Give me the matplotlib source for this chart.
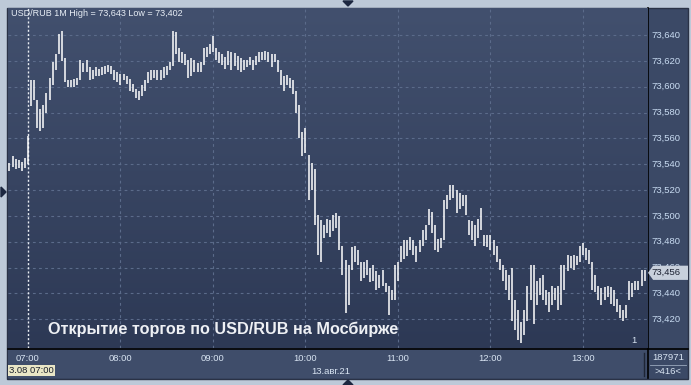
import numpy as np
import matplotlib.pyplot as plt
from matplotlib.patches import Rectangle, Polygon

plt.rcParams['font.family'] = ['Liberation Sans', 'DejaVu Sans']

# 2-minute bars, first bar at 06:48 (minutes relative to 07:00)
start_min = -12
step_min = 2
highs = [73.541, 73.546, 73.544, 73.543, 73.542, 73.545, 73.562, 73.605, 73.605, 73.590,
         73.583, 73.586, 73.595, 73.607, 73.619, 73.625, 73.641, 73.643, 73.622, 73.605,
         73.605, 73.606, 73.607, 73.621, 73.618, 73.621, 73.615, 73.613, 73.615, 73.614,
         73.615, 73.616, 73.617, 73.616, 73.613, 73.611, 73.610, 73.610, 73.608, 73.606,
         73.602, 73.598, 73.597, 73.601, 73.605, 73.611, 73.613, 73.613, 73.613, 73.613,
         73.615, 73.616, 73.619, 73.643, 73.642, 73.630, 73.627, 73.625, 73.621, 73.622,
         73.621, 73.618, 73.619, 73.630, 73.631, 73.633, 73.639, 73.630, 73.627, 73.625,
         73.623, 73.628, 73.627, 73.626, 73.624, 73.622, 73.621, 73.621, 73.623, 73.621,
         73.624, 73.627, 73.627, 73.628, 73.627, 73.625, 73.625, 73.621, 73.613, 73.608,
         73.609, 73.607, 73.605, 73.597, 73.586, 73.565, 73.568, 73.547, 73.541, 73.536,
         73.501, 73.497, 73.493, 73.498, 73.497, 73.501, 73.502, 73.500, 73.477, 73.466,
         73.462, 73.476, 73.477, 73.474, 73.464, 73.464, 73.466, 73.460, 73.462, 73.457,
         73.454, 73.458, 73.448, 73.446, 73.443, 73.462, 73.464, 73.477, 73.481, 73.481,
         73.484, 73.481, 73.477, 73.481, 73.489, 73.493, 73.505, 73.503, 73.493, 73.482,
         73.483, 73.512, 73.516, 73.524, 73.524, 73.520, 73.518, 73.516, 73.516, 73.497,
         73.496, 73.493, 73.498, 73.506, 73.485, 73.485, 73.485, 73.481, 73.477, 73.467,
         73.462, 73.458, 73.454, 73.460, 73.435, 73.427, 73.418, 73.427, 73.446, 73.462,
         73.462, 73.450, 73.452, 73.454, 73.443, 73.441, 73.446, 73.444, 73.446, 73.462,
         73.462, 73.470, 73.469, 73.470, 73.469, 73.477, 73.479, 73.475, 73.474, 73.464,
         73.454, 73.446, 73.444, 73.445, 73.446, 73.445, 73.443, 73.436, 73.431, 73.427,
         73.431, 73.450, 73.448, 73.450, 73.450, 73.458, 73.458]
lows = [73.535, 73.538, 73.536, 73.537, 73.535, 73.537, 73.540, 73.585, 73.590, 73.568,
        73.566, 73.568, 73.580, 73.590, 73.601, 73.613, 73.625, 73.620, 73.604, 73.600,
        73.600, 73.600, 73.601, 73.605, 73.611, 73.611, 73.605, 73.606, 73.608, 73.608,
        73.609, 73.610, 73.611, 73.610, 73.605, 73.604, 73.601, 73.605, 73.602, 73.597,
        73.596, 73.591, 73.590, 73.593, 73.597, 73.603, 73.605, 73.607, 73.605, 73.605,
        73.607, 73.609, 73.613, 73.616, 73.625, 73.619, 73.618, 73.617, 73.607, 73.608,
        73.611, 73.611, 73.611, 73.617, 73.623, 73.625, 73.627, 73.621, 73.618, 73.617,
        73.614, 73.617, 73.613, 73.616, 73.613, 73.611, 73.613, 73.615, 73.617, 73.613,
        73.617, 73.619, 73.621, 73.621, 73.619, 73.615, 73.619, 73.611, 73.601, 73.597,
        73.601, 73.599, 73.594, 73.580, 73.560, 73.546, 73.549, 73.512, 73.520, 73.493,
        73.470, 73.464, 73.483, 73.487, 73.484, 73.488, 73.491, 73.474, 73.454, 73.425,
        73.431, 73.458, 73.464, 73.462, 73.450, 73.452, 73.454, 73.449, 73.450, 73.443,
        73.444, 73.446, 73.441, 73.423, 73.435, 73.435, 73.450, 73.464, 73.467, 73.469,
        73.474, 73.470, 73.464, 73.472, 73.477, 73.481, 73.493, 73.487, 73.474, 73.472,
        73.475, 73.481, 73.505, 73.512, 73.514, 73.502, 73.505, 73.508, 73.501, 73.485,
        73.481, 73.477, 73.483, 73.489, 73.477, 73.476, 73.474, 73.470, 73.464, 73.458,
        73.450, 73.443, 73.435, 73.419, 73.412, 73.404, 73.402, 73.408, 73.419, 73.435,
        73.416, 73.431, 73.439, 73.435, 73.431, 73.426, 73.431, 73.435, 73.427, 73.431,
        73.443, 73.457, 73.460, 73.458, 73.462, 73.464, 73.470, 73.466, 73.463, 73.443,
        73.441, 73.435, 73.431, 73.435, 73.437, 73.432, 73.430, 73.426, 73.421, 73.419,
        73.421, 73.435, 73.437, 73.443, 73.443, 73.446, 73.450]
last_close = 73.456

price_ticks = [73.420, 73.440, 73.460, 73.480, 73.500, 73.520, 73.540, 73.560,
               73.580, 73.600, 73.620, 73.640]
hour_ticks = [0, 60, 120, 180, 240, 300, 360]
hour_labels = ['07:00', '08:00', '09:00', '10:00', '11:00', '12:00', '13:00']

times = start_min + step_min * np.arange(len(highs))

W, H = 691, 385
fig = plt.figure(figsize=(W / 100, H / 100), dpi=100, facecolor='#bdc9d8')

# frame / panels drawn in pixel coords
bg = fig.add_axes([0, 0, 1, 1])
bg.set_xlim(0, W)
bg.set_ylim(H, 0)
bg.axis('off')
bg.add_patch(Rectangle((7.5, 7.5), 681, 371, facecolor='#3b4966', edgecolor='#2a3246', lw=1))
bg.add_patch(Rectangle((8, 348), 640, 30, facecolor='#3f4d6a', edgecolor='none'))
bg.plot([648, 648], [8, 378], color='black', lw=1.2)
bg.plot([8, 688], [348.5, 348.5], color='black', lw=1.2)
bg.plot([644, 644], [353, 376], color='#1e2535', lw=1)
bg.plot([650, 686], [365, 365], color='#9aa8bd', lw=0.6)
bg.add_patch(Polygon([[343, 1], [353, 1], [348, 6]], closed=True, color='#1c2740'))
bg.add_patch(Polygon([[1, 187], [1, 197], [6, 192]], closed=True, color='#1c2740'))
bg.add_patch(Polygon([[343, 385], [353, 385], [348, 380]], closed=True, color='#1c2740'))
bg.text(668, 358, '187971', color='#d8e4f2', fontsize=6.8, ha='center', va='center')
bg.text(668, 372, '>416<', color='#d8e4f2', fontsize=6.8, ha='center', va='center')
bg.text(331, 371, '13.авг.21', color='#d8e4f2', fontsize=6.8, ha='center', va='center')
bg.text(9, 370.5, '3.08 07:00', color='#1a1f2c', fontsize=6.8, ha='left', va='center',
        bbox=dict(boxstyle='square,pad=0.15', facecolor='#e9e6c6', edgecolor='none'))

ax = fig.add_axes([8 / W, (H - 348) / H, 640 / W, 340 / H])
x0 = -12.97
x1 = 402.2
y0 = 73.3978
y1 = 73.6609
grad = np.linspace(0, 1, 256).reshape(-1, 1)
ax.imshow(grad, extent=[x0, x1, y0, y1], aspect='auto', origin='upper',
          cmap=plt.matplotlib.colors.LinearSegmentedColormap.from_list('bgc', ['#42506e', '#2d3955']),
          zorder=0)
ax.set_xlim(x0, x1)
ax.set_ylim(y0, y1)
for s in ax.spines.values():
    s.set_visible(False)
ax.set_xticks([])
ax.set_yticks([])

for p in price_ticks:
    ax.axhline(p, color='#5b6b8a', lw=0.8, ls=(0, (2.5, 3)), zorder=1)
for t in hour_ticks[1:]:
    ax.axvline(t, color='#5b6b8a', lw=0.8, ls=(0, (2.5, 3)), zorder=1)
ax.axvline(0, color='#e8ecf2', lw=1.0, ls=(0, (1.5, 1.5)), zorder=2)

ax.vlines(times, lows, highs, color='white', lw=1.1, zorder=3)

ax.text(0.005, 0.985, 'USD/RUB 1M High = %s Low = %s' % (
    ('%.3f' % max(highs)).replace('.', ','), ('%.3f' % min(lows)).replace('.', ',')),
    transform=ax.transAxes, color='#e8eef6', fontsize=6.5, ha='left', va='center', zorder=4)
ax.text(0.0625, 0.055, 'Открытие торгов по USD/RUB на Мосбирже', transform=ax.transAxes,
        color='#eef0f4', fontsize=11.7, fontweight='bold', ha='left', va='center', zorder=4)
ax.text(0.978, 0.01, '1', transform=ax.transAxes, color='#d8e4f2', fontsize=6.8,
        ha='center', va='bottom', zorder=4)

ytr = ax.get_yaxis_transform()
for p in price_ticks:
    # the label nearest the last price sits partly under the price marker
    ax.text(1.0047, p, ('%.3f' % p).replace('.', ','), transform=ytr, color='#c9dcf2',
            fontsize=6.8, ha='left', va='center', clip_on=False, zorder=4)
xtr = ax.get_xaxis_transform()
for t, lab in zip(hour_ticks, hour_labels):
    ax.text(t, -0.03, lab, transform=xtr, color='#d8e4f2', fontsize=6.8,
            ha='center', va='center', clip_on=False)

# current price marker
ax.add_patch(Polygon([[1.0, last_close], [1.008, last_close + 0.0055], [1.0625, last_close + 0.0055],
                      [1.0625, last_close - 0.0055], [1.008, last_close - 0.0055]],
                     closed=True, transform=ytr, facecolor='#c8d0dc', edgecolor='none',
                     clip_on=False, zorder=5))
ax.text(1.0047, last_close, ('%.3f' % last_close).replace('.', ','), transform=ytr,
        color='#1a2030', fontsize=6.8, ha='left', va='center', clip_on=False, zorder=6)

fig.savefig('out.png', dpi=100, facecolor=fig.get_facecolor())
